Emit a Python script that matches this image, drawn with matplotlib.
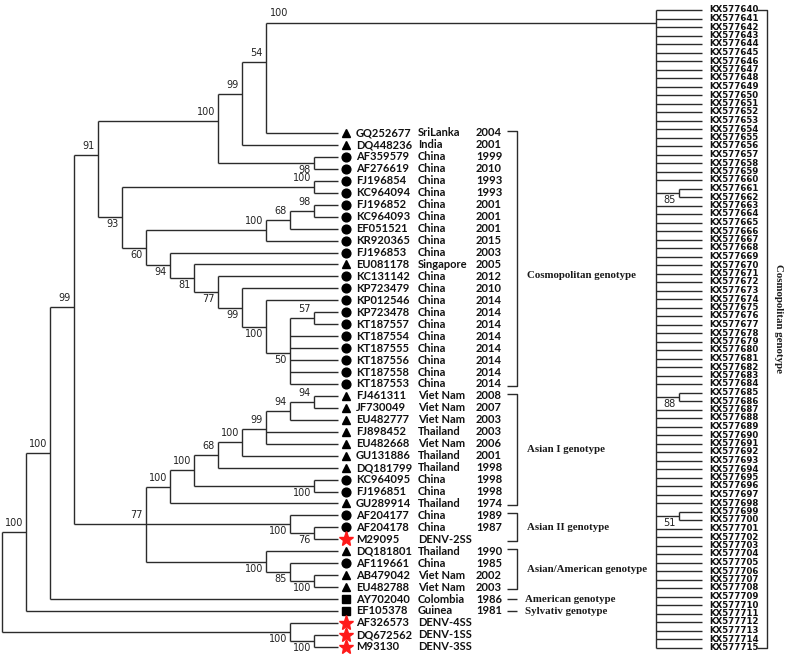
import matplotlib.pyplot as plt

# ---------------- data ----------------
accessions = ["GQ252677", "DQ448236", "AF359579", "AF276619", "FJ196854", "KC964094",
              "FJ196852", "KC964093", "EF051521", "KR920365", "FJ196853", "EU081178",
              "KC131142", "KP723479", "KP012546", "KP723478", "KT187557", "KT187554",
              "KT187555", "KT187556", "KT187558", "KT187553",
              "FJ461311", "JF730049", "EU482777", "FJ898452", "EU482668", "GU131886",
              "DQ181799", "KC964095", "FJ196851", "GU289914",
              "AF204177", "AF204178", "M29095",
              "DQ181801", "AF119661", "AB479042", "EU482788",
              "AY702040", "EF105378", "AF326573", "DQ672562", "M93130"]
countries = ["SriLanka", "India", "China", "China", "China", "China",
             "China", "China", "China", "China", "China", "Singapore",
             "China", "China", "China", "China", "China", "China",
             "China", "China", "China", "China",
             "Viet Nam", "Viet Nam", "Viet Nam", "Thailand", "Viet Nam", "Thailand",
             "Thailand", "China", "China", "Thailand",
             "China", "China", "DENV-2SS",
             "Thailand", "China", "Viet Nam", "Viet Nam",
             "Colombia", "Guinea", "DENV-4SS", "DENV-1SS", "DENV-3SS"]
years = ["2004", "2001", "1999", "2010", "1993", "1993",
         "2001", "2001", "2001", "2015", "2003", "2005",
         "2012", "2010", "2014", "2014", "2014", "2014",
         "2014", "2014", "2014", "2014",
         "2008", "2007", "2003", "2003", "2006", "2001",
         "1998", "1998", "1998", "1974",
         "1989", "1987", "",
         "1990", "1985", "2002", "2003",
         "1986", "1981", "", "", ""]
symbols = ["tri", "tri", "dot", "dot", "dot", "dot",
           "dot", "dot", "dot", "dot", "dot", "tri",
           "dot", "dot", "dot", "dot", "dot", "dot",
           "dot", "dot", "dot", "dot",
           "tri", "tri", "tri", "tri", "tri", "tri",
           "tri", "dot", "dot", "tri",
           "dot", "dot", "star",
           "tri", "dot", "tri", "tri",
           "sq", "sq", "star", "star", "star"]

# tree topology (internal node -> children), leaves are accessions, 'KX' is the new clade
children = {
    "root": ["B", "OG"],
    "B": ["C", "EF105378"],
    "C": ["D", "AY702040"],
    "D": ["E", "G"],
    "E": ["H", "I"],
    "H": ["J", "K"],
    "J": ["L", "DQ448236"],
    "L": ["KX", "GQ252677"],
    "K": ["AF359579", "AF276619"],
    "I": ["I1", "Y"],
    "I1": ["FJ196854", "KC964094"],
    "Y": ["Z", "AA"],
    "Z": ["AB", "KR920365"],
    "AB": ["AC", "EF051521"],
    "AC": ["FJ196852", "KC964093"],
    "AA": ["FJ196853", "AD"],
    "AD": ["EU081178", "AE"],
    "AE": ["KC131142", "AF"],
    "AF": ["KP723479", "AG"],
    "AG": ["KP012546", "AH"],
    "AH": ["AI", "KT187554", "KT187555", "KT187556", "KT187558", "KT187553"],
    "AI": ["KP723478", "KT187557"],
    "G": ["N", "Q", "P"],
    "N": ["R", "GU289914"],
    "R": ["S", "T"],
    "T": ["KC964095", "FJ196851"],
    "S": ["U", "DQ181799"],
    "U": ["V", "GU131886"],
    "V": ["W", "FJ898452", "EU482668"],
    "W": ["X", "EU482777"],
    "X": ["FJ461311", "JF730049"],
    "Q": ["AF204177", "Q1"],
    "Q1": ["AF204178", "M29095"],
    "P": ["DQ181801", "P1"],
    "P1": ["AF119661", "P2"],
    "P2": ["AB479042", "EU482788"],
    "OG": ["AF326573", "OG1"],
    "OG1": ["DQ672562", "M93130"],
}
bootstrap = {"KX": 100, "L": 54, "J": 99, "H": 100, "E": 91, "K": 98, "I1": 100,
             "I": 93, "Y": 60, "Z": 100, "AB": 68, "AC": 98, "AA": 94, "AD": 81,
             "AE": 77, "AF": 99, "AG": 100, "AH": 50, "AI": 57, "D": 99, "C": 100,
             "B": 100, "G": 77, "N": 100, "R": 100, "S": 68, "U": 100, "V": 99,
             "W": 94, "X": 94, "T": 100, "Q": 100, "Q1": 76, "P": 100, "P1": 85,
             "P2": 100, "OG": 100, "OG1": 100}

kx_ids = [f"KX{577640 + i}" for i in range(76)]
kx_pairs = [(21, 22), (45, 46), (59, 60)]
kx_boot = [85, 88, 51]

genotypes = ["Cosmopolitan genotype", "Asian I genotype", "Asian II genotype",
             "Asian/American genotype", "American genotype", "Sylvativ genotype"]
genotype_span = [(0, 21), (22, 31), (32, 34), (35, 38), (39, 39), (40, 40)]

# ---------------- layout ----------------
X0, STEP = 2.0, 24.0
ROW0, ROW_H = 133.0, 11.95
KX_ROW0, KX_ROW_H = 10.0, 8.5
KX_ROOT_X, KX_STEP = 656.0, 23.0
KX_ATTACH_Y = 23.0
# backbone nodes the figure places by hand (not at the children's mean)
fixed_y = {"L": 62, "J": 94, "H": 121, "E": 155, "D": 307}
label_above_exception = {"G"}

LINE = dict(color="#2b2b2b", lw=1.0, solid_capstyle="butt")
BOOT_FONT = dict(family=["Liberation Sans Narrow", "DejaVu Sans"], fontsize=7, color="#222222")
LEAF_FONT = dict(family=["Lato", "DejaVu Sans"], fontsize=8, fontweight="bold", color="#111111")
KX_FONT = dict(family=["Liberation Sans Narrow", "DejaVu Sans"], fontsize=6.2,
               fontweight="bold", color="#111111")
GEN_FONT = dict(family=["Liberation Serif", "DejaVu Serif"], fontsize=7.8,
                fontweight="bold", color="#1a1a1a")

leaf_row = {a: i for i, a in enumerate(accessions)}


def height(n):
    if n == "KX":
        return 2
    if n not in children:
        return 0
    return 1 + max(height(c) for c in children[n])


ROOT_H = height("root")
pos = {}


def layout(n):
    if n == "KX":
        pos[n] = (KX_ROOT_X, KX_ATTACH_Y)
        return pos[n]
    if n not in children:
        pos[n] = (X0 + STEP * ROOT_H, ROW0 + ROW_H * leaf_row[n])
        return pos[n]
    ys = [layout(c)[1] for c in children[n]]
    y = fixed_y.get(n, sum(ys) / len(ys))
    pos[n] = (X0 + STEP * (ROOT_H - height(n)), y)
    return pos[n]


layout("root")

fig = plt.figure(figsize=(7.87, 6.55), dpi=100)
ax = fig.add_axes([0, 0, 1, 1])
ax.set_xlim(0, 787)
ax.set_ylim(655, 0)
ax.axis("off")

# left tree branches and bootstrap values
for n, kids in children.items():
    x, _ = pos[n]
    ys = [pos[c][1] for c in kids]
    ax.plot([x, x], [min(ys), max(ys)], **LINE)
    for k, c in enumerate(kids):
        cx, cy = pos[c]
        ax.plot([x, cx], [cy, cy], **LINE)
        if c in bootstrap:
            if c == "KX":
                ax.text(x + 4, cy - 10, str(bootstrap[c]), ha="left", va="center", **BOOT_FONT)
                continue
            above = (k == 0) or (c in label_above_exception)
            ax.text(cx - 3, cy - 9 if above else cy + 7, str(bootstrap[c]),
                    ha="right", va="center", **BOOT_FONT)

# leaf symbols and labels
marker_style = {"tri": dict(marker="^", ms=6, color="black"),
                "dot": dict(marker="o", ms=6.3, color="black"),
                "sq": dict(marker="s", ms=5.5, color="black"),
                "star": dict(marker="*", ms=11, color="#ff1a1a", mec="#ff1a1a")}
for i, acc in enumerate(accessions):
    y = ROW0 + ROW_H * i
    ax.plot([346], [y], linestyle="none", **marker_style[symbols[i]])
    ax.text(356, y, acc, ha="left", va="center", **LEAF_FONT)
    ax.text(418, y, countries[i], ha="left", va="center", **LEAF_FONT)
    if years[i]:
        ax.text(476, y, years[i], ha="left", va="center", **LEAF_FONT)

# genotype brackets on the left tree
for name, (a, b) in zip(genotypes, genotype_span):
    ya, yb = ROW0 + ROW_H * a, ROW0 + ROW_H * b
    if a == b:
        ax.plot([507, 517], [ya, ya], **LINE)
        ax.text(525, ya, name, ha="left", va="center", **GEN_FONT)
    else:
        ax.plot([507, 517, 517, 507], [ya - 2, ya - 2, yb + 2, yb + 2], **LINE)
        ax.text(527, (ya + yb) / 2 + (17 if a == 0 else 0), name,
                ha="left", va="center", **GEN_FONT)

# right-hand tree of the new KX sequences
kx_y = [KX_ROW0 + KX_ROW_H * i for i in range(len(kx_ids))]
ax.plot([KX_ROOT_X, KX_ROOT_X], [kx_y[0], kx_y[-1]], **LINE)
paired = {i for p in kx_pairs for i in p}
leaf_x = KX_ROOT_X + 2 * KX_STEP
node_x = KX_ROOT_X + KX_STEP
for i, y in enumerate(kx_y):
    if i in paired:
        ax.plot([node_x, leaf_x], [y, y], **LINE)
    else:
        ax.plot([KX_ROOT_X, leaf_x], [y, y], **LINE)
    ax.text(leaf_x + 7, y, kx_ids[i], ha="left", va="center", **KX_FONT)
for (a, b), bs in zip(kx_pairs, kx_boot):
    ym = (kx_y[a] + kx_y[b]) / 2
    ax.plot([node_x, node_x], [kx_y[a], kx_y[b]], **LINE)
    ax.plot([KX_ROOT_X, node_x], [ym, ym], **LINE)
    ax.text(node_x - 3, ym + 7, str(bs), ha="right", va="center", **BOOT_FONT)

ax.plot([757, 767, 767, 757], [kx_y[0], kx_y[0], kx_y[-1], kx_y[-1]], **LINE)
ax.text(779, (kx_y[0] + kx_y[-1]) / 2 - 10, "Cosmopolitan genotype", rotation=-90,
        ha="center", va="center", **GEN_FONT)

fig.savefig("out.png", dpi=100)
